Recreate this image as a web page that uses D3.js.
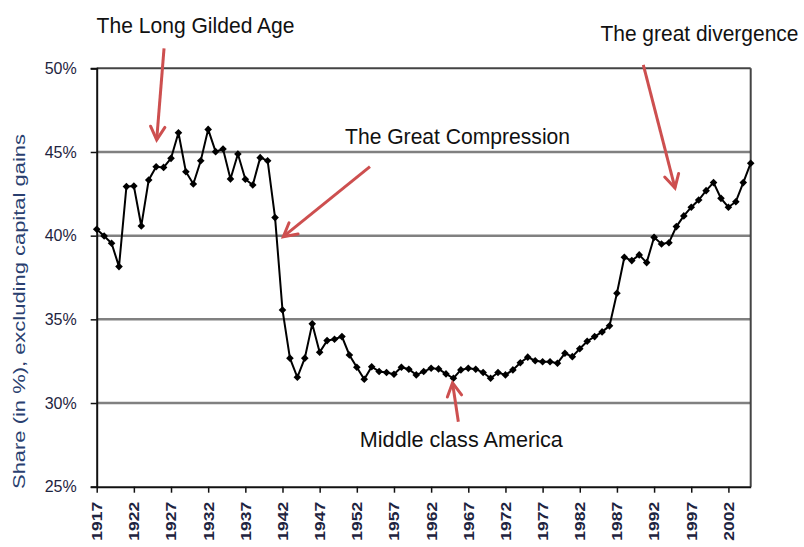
<!DOCTYPE html>
<html>
<head>
<meta charset="utf-8">
<script src="https://cdn.jsdelivr.net/npm/d3@7"></script>
<style>
  html, body { margin: 0; padding: 0; background: #fff; }
  svg { display: block; }
</style>
</head>
<body>
<svg id="chart" width="804" height="547"></svg>
<script>
// ---- data ----
const firstYear = 1917;
const lastYear = 2005;
const years = d3.range(firstYear, lastYear + 1);
const shares = [
  40.38, 39.98, 39.55, 38.15, 42.93, 42.97, 40.58, 43.33, 44.12, 44.08,
  44.62, 46.15, 43.82, 43.09, 44.48, 46.35, 45.02, 45.18, 43.39, 44.88,
  43.37, 43.03, 44.66, 44.48, 41.08,
  35.56, 32.68, 31.54, 32.68, 34.73, 33.03, 33.73, 33.81, 33.97, 32.87,
  32.14, 31.42, 32.17, 31.88, 31.82, 31.72, 32.14, 32.02, 31.68, 31.88,
  32.08, 32.04, 31.74, 31.48, 31.98, 32.08, 32.02,
  31.82, 31.48, 31.82, 31.68, 31.98, 32.41, 32.74, 32.53, 32.47, 32.47,
  32.38, 32.97, 32.77, 33.24, 33.69, 33.97, 34.25, 34.61,
  36.56, 38.71, 38.51, 38.85, 38.39, 39.90, 39.50, 39.58, 40.54, 41.18,
  41.70, 42.13, 42.69, 43.17, 42.23, 41.70, 42.03, 43.17, 44.33
];
const xTickYears = [1917, 1922, 1927, 1932, 1937, 1942, 1947, 1952, 1957, 1962,
                    1967, 1972, 1977, 1982, 1987, 1992, 1997, 2002];
const yTicks = [25, 30, 35, 40, 45, 50];
const yLabel = "Share (in %), excluding capital gains";

// annotation texts and arrows, anchored in data coordinates
const labelTexts = ["The Long Gilded Age", "The great divergence", "The Great Compression", "Middle class America"];
const labelYears = [1930.3, 1998.1, 1965.55, 1966.06];
const labelValues = [52.11, 51.65, 45.46, 27.39];
const labelWidths = [198, 198, 225, 203];
const arrowFrom = [[1926.06, 51.19], [1990.55, 50.2], [1953.77, 44.12], [1965.66, 28.88]];
const arrowTo   = [[1925.07, 45.72], [1994.81, 42.85], [1942.11, 39.94], [1964.88, 31.2]];

// ---- layout ----
const W = 804, H = 547;
const margin = { left: 96.7, top: 68.3, right: 53.3, bottom: 60.3 };
const svg = d3.select("#chart");

const x = d3.scaleLinear().domain([firstYear, lastYear]).range([margin.left, W - margin.right]);
const y = d3.scaleLinear().domain([25, 50]).range([H - margin.bottom, margin.top]);

// gridlines
svg.append("g").selectAll("line")
  .data(yTicks.filter(t => t > 25 && t < 50))
  .join("line")
  .attr("x1", x(firstYear)).attr("x2", x(lastYear))
  .attr("y1", d => y(d)).attr("y2", d => y(d))
  .attr("stroke", "#808080").attr("stroke-width", 2.5);

// frame top & right
svg.append("line")
  .attr("x1", x(firstYear)).attr("x2", x(lastYear))
  .attr("y1", y(50)).attr("y2", y(50))
  .attr("stroke", "#444").attr("stroke-width", 2);
svg.append("line")
  .attr("x1", x(lastYear)).attr("x2", x(lastYear))
  .attr("y1", y(50)).attr("y2", y(25))
  .attr("stroke", "#444").attr("stroke-width", 2);

// y axis
const yAxis = d3.axisLeft(y).tickValues(yTicks).tickFormat(d => d + "%").tickSize(6).tickPadding(14);
const gy = svg.append("g").attr("transform", `translate(${x(firstYear)},0)`).call(yAxis);
gy.select(".domain").attr("stroke", "#111").attr("stroke-width", 2);
gy.selectAll(".tick line").attr("stroke", "#111").attr("stroke-width", 1.5);
gy.selectAll(".tick text")
  .attr("font-family", "Liberation Sans, Arial, sans-serif")
  .attr("font-size", 16).attr("fill", "#1e2440");

// x axis
const xAxis = d3.axisBottom(x).tickValues(xTickYears).tickFormat(d3.format("d")).tickSize(6).tickSizeOuter(0);
const gx = svg.append("g").attr("transform", `translate(0,${y(25)})`).call(xAxis);
gx.select(".domain").attr("stroke", "#111").attr("stroke-width", 2);
gx.selectAll(".tick line").attr("stroke", "#111").attr("stroke-width", 1.5);
gx.selectAll(".tick text")
  .attr("font-family", "Liberation Sans, Arial, sans-serif")
  .attr("font-size", 14).attr("font-weight", "bold").attr("fill", "#1e2440")
  .attr("text-anchor", "end")
  .attr("transform", "rotate(-90)")
  .attr("x", -15).attr("y", 0).attr("dy", "0.35em")
  .attr("textLength", 39).attr("lengthAdjust", "spacingAndGlyphs");

// y axis title
svg.append("text")
  .attr("transform", `translate(25,${(y(25) + y(50)) / 2 + 34}) rotate(-90)`)
  .attr("text-anchor", "middle")
  .attr("font-family", "Liberation Sans, Arial, sans-serif")
  .attr("font-size", 16).attr("fill", "#2a3f70")
  .attr("textLength", 355).attr("lengthAdjust", "spacingAndGlyphs")
  .text(yLabel);

// line
const line = d3.line().x((d, i) => x(years[i])).y(d => y(d));
svg.append("path").datum(shares)
  .attr("d", line).attr("fill", "none")
  .attr("stroke", "#000").attr("stroke-width", 2);

// markers
const mk = 3.8;
svg.append("g").selectAll("path")
  .data(shares)
  .join("path")
  .attr("transform", (d, i) => `translate(${x(years[i])},${y(d)})`)
  .attr("d", `M0,${-mk}L${mk},0L0,${mk}L${-mk},0Z`)
  .attr("fill", "#000");

// annotations
const annFont = "'Liberation Sans Narrow', 'Arial Narrow', 'Liberation Sans', Arial, sans-serif";
labelTexts.forEach((t, i) => {
  svg.append("text")
    .attr("transform", `translate(${x(labelYears[i])},${y(labelValues[i])}) scale(1,1.15)`)
    .attr("text-anchor", "middle")
    .attr("font-family", annFont)
    .attr("font-size", 19).attr("fill", "#111")
    .attr("textLength", labelWidths[i]).attr("lengthAdjust", "spacingAndGlyphs")
    .text(t);
});

const arrowColor = "#cd4f4f";
arrowFrom.forEach((f, i) => {
  const x0 = x(f[0]), y0 = y(f[1]);
  const x1 = x(arrowTo[i][0]), y1 = y(arrowTo[i][1]);
  const ang = Math.atan2(y1 - y0, x1 - x0);
  const hl = 15, spread = 0.5;
  const a1 = [x1 - hl * Math.cos(ang - spread), y1 - hl * Math.sin(ang - spread)];
  const a2 = [x1 - hl * Math.cos(ang + spread), y1 - hl * Math.sin(ang + spread)];
  svg.append("line")
    .attr("x1", x0).attr("y1", y0).attr("x2", x1).attr("y2", y1)
    .attr("stroke", arrowColor).attr("stroke-width", 3);
  svg.append("path")
    .attr("d", `M${a1[0]},${a1[1]}L${x1},${y1}L${a2[0]},${a2[1]}`)
    .attr("fill", "none").attr("stroke", arrowColor).attr("stroke-width", 3)
    .attr("stroke-linejoin", "miter").attr("stroke-linecap", "round");
});
</script>
</body>
</html>
